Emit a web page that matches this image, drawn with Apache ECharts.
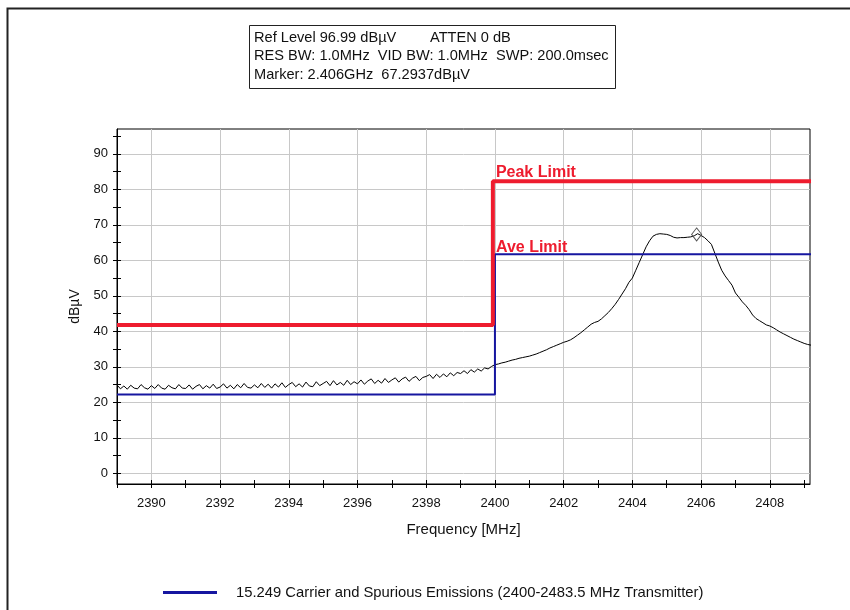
<!DOCTYPE html>
<html>
<head>
<meta charset="utf-8">
<script src="https://cdn.jsdelivr.net/npm/echarts@6/dist/echarts.min.js"></script>
<style>
  html, body { margin: 0; padding: 0; background: #ffffff; }
  #chart { width: 850px; height: 610px; }
</style>
</head>
<body>
<div id="chart"></div>
<script>
// ---------- data ----------
const infoLeft = [
  'Ref Level 96.99 dB\u00b5V',
  'RES BW: 1.0MHz  VID BW: 1.0MHz  SWP: 200.0msec',
  'Marker: 2.406GHz  67.2937dB\u00b5V'
];
const infoAtten = 'ATTEN 0 dB';
const legendName = '15.249 Carrier and Spurious Emissions (2400-2483.5 MHz Transmitter)';
const xTitle = 'Frequency [MHz]';
const yTitle = 'dB\u00b5V';

const freqMin = 2389;
const freqMax = 2409.17;
const levelMin = -3.01;
const levelMax = 96.99;

const xLabelTicks = [2390, 2392, 2394, 2396, 2398, 2400, 2402, 2404, 2406, 2408];
const xMinorTicks = [2389, 2390, 2391, 2392, 2393, 2394, 2395, 2396, 2397, 2398, 2399,
                     2400, 2401, 2402, 2403, 2404, 2405, 2406, 2407, 2408, 2409];
const yLabelTicks = [0, 10, 20, 30, 40, 50, 60, 70, 80, 90];
const yMinorTicks = [0, 5, 10, 15, 20, 25, 30, 35, 40, 45, 50, 55, 60, 65, 70, 75, 80, 85, 90, 95];

// measured sweep trace: start frequency, step (MHz) and levels (dBuV)
const traceStart = 2389.0;
const traceStep = 0.1;
const traceValues = [
  24.9, 23.8, 24.6, 23.7, 24.8, 24.0, 23.8, 25.0, 24.1, 23.7,
  24.7, 23.9, 25.0, 24.0, 23.7, 24.8, 24.1, 23.8, 25.0, 24.0,
  23.9, 24.9, 23.7, 24.5, 25.0, 23.8, 24.7, 24.0, 25.1, 23.9,
  24.3, 25.2, 24.0, 24.8, 23.8, 25.0, 24.1, 25.3, 24.2, 24.0,
  24.9, 24.1, 25.3, 24.2, 25.1, 24.0, 25.2, 24.3, 25.5, 24.2,
  25.0, 25.6, 24.4, 25.2, 24.3, 25.7, 24.6, 24.4, 25.8, 24.7,
  25.3, 25.9, 24.7, 26.1, 24.9, 25.6, 24.8, 26.2, 25.0, 25.8,
  25.2, 26.3, 25.1, 26.0, 26.6, 25.3, 26.2, 25.4, 26.7, 25.6,
  26.3, 26.9, 25.7, 26.6, 27.1, 25.9, 26.8, 27.3, 26.1, 27.0,
  27.3, 27.8, 26.7, 27.9, 27.0, 28.0, 27.2, 28.3, 27.5, 28.4,
  28.1, 28.9, 28.1, 29.2, 28.5, 29.4, 28.8, 29.7, 29.4, 30.1,
  30.6, 30.8, 31.1, 31.3, 31.6, 31.9, 32.1, 32.4, 32.6, 32.8,
  33.0, 33.3, 33.6, 34.0, 34.4, 34.8, 35.3, 35.7, 36.1, 36.5,
  36.9, 37.2, 37.6, 38.2, 38.9, 39.6, 40.4, 41.2, 42.0, 42.5,
  42.8, 43.5, 44.4, 45.3, 46.4, 47.6, 49.0, 50.5, 52.0, 53.8,
  55.0, 57.2, 59.4, 61.6, 63.8, 65.5, 66.8, 67.3, 67.5, 67.4,
  67.3, 67.0, 66.5, 66.3, 66.4, 66.4, 66.5, 66.6, 66.9, 67.5,
  67.0, 66.4, 65.5, 64.5, 62.0, 59.5, 57.2, 55.6, 54.3, 53.0,
  50.8, 49.6, 48.3, 47.3, 46.1, 44.6, 43.6, 43.0, 42.4, 41.8,
  41.5, 41.0, 40.4, 39.8, 39.3, 38.8, 38.3, 37.8, 37.4, 37.0,
  36.6, 36.3, 36.1
];

const peakLimitFreq = [2389, 2399.94, 2399.94, 2409.2];
const peakLimitLevel = [41.8, 41.8, 82.3, 82.3];
const aveLimitFreq = [2389, 2400, 2400, 2409.2];
const aveLimitLevel = [22.2, 22.2, 61.7, 61.7];

const markerFreq = 2405.87;
const markerLevel = 67.29;

// ---------- chart ----------
const RED = '#ee1c2e';
const BLUE = '#1616a0';
const FONT = '"Liberation Sans", Arial, sans-serif';

const traceData = traceValues.map((v, i) => [traceStart + i * traceStep, v]);
const peakData = peakLimitFreq.map((f, i) => [f, peakLimitLevel[i]]);
const aveData = aveLimitFreq.map((f, i) => [f, aveLimitLevel[i]]);

const chart = echarts.init(document.getElementById('chart'), null, { renderer: 'canvas' });

const gridPos = { left: 117, top: 129, width: 693, height: 355 };
const plain = v => String(v);

function baseX(extra) {
  return Object.assign({
    type: 'value', min: freqMin, max: freqMax, position: 'bottom', gridIndex: 0,
    axisLine: { show: false, onZero: false }, axisLabel: { show: false },
    axisTick: { show: false }, splitLine: { show: false }
  }, extra);
}
function baseY(extra) {
  return Object.assign({
    type: 'value', min: levelMin, max: levelMax, position: 'left', gridIndex: 0,
    axisLine: { show: false, onZero: false }, axisLabel: { show: false },
    axisTick: { show: false }, splitLine: { show: false }
  }, extra);
}

const option = {
  animation: false,
  backgroundColor: '#ffffff',
  textStyle: { fontFamily: FONT },
  grid: Object.assign({
    show: true, borderColor: '#000', borderWidth: 1, backgroundColor: '#fff',
    containLabel: false, outerBoundsMode: 'none'
  }, gridPos),
  xAxis: [
    baseX({
      name: xTitle, nameLocation: 'middle', nameGap: 38,
      nameTextStyle: { color: '#111', fontSize: 15, fontFamily: FONT },
      axisLine: { show: true, onZero: false, lineStyle: { color: '#000', width: 1 } },
      axisLabel: { show: true, customValues: xLabelTicks, formatter: plain, margin: 13, color: '#111', fontSize: 13, fontFamily: FONT },
      axisTick: { show: true, customValues: xMinorTicks, inside: false, length: 4, lineStyle: { color: '#000' } }
    }),
    baseX({
      axisTick: { show: true, customValues: xMinorTicks, inside: true, length: 4, lineStyle: { color: '#000' } }
    }),
    baseX({
      axisTick: { show: false, customValues: xLabelTicks },
      splitLine: { show: true, lineStyle: { color: '#c8c8c8', width: 1 } }
    })
  ],
  yAxis: [
    baseY({
      name: yTitle, nameLocation: 'middle', nameGap: 35,
      nameTextStyle: { color: '#111', fontSize: 14, fontFamily: FONT },
      axisLine: { show: true, onZero: false, lineStyle: { color: '#000', width: 1 } },
      axisLabel: { show: true, customValues: yLabelTicks, formatter: plain, margin: 9, color: '#111', fontSize: 13, fontFamily: FONT },
      axisTick: { show: true, customValues: yMinorTicks, inside: false, length: 4, lineStyle: { color: '#000' } }
    }),
    baseY({
      axisTick: { show: true, customValues: yMinorTicks, inside: true, length: 4, lineStyle: { color: '#000' } }
    }),
    baseY({
      axisTick: { show: false, customValues: yLabelTicks },
      splitLine: { show: true, lineStyle: { color: '#c8c8c8', width: 1 } }
    })
  ],
  legend: {
    data: [legendName],
    left: 158, top: 580,
    icon: 'rect', itemWidth: 54, itemHeight: 3,
    textStyle: { color: '#111', fontSize: 14.8, fontFamily: FONT, padding: [0, 0, 0, 14] },
    selectedMode: false
  },
  series: [
    {
      name: 'trace', type: 'line', xAxisIndex: 0, yAxisIndex: 0,
      data: traceData, showSymbol: false, symbol: 'none', z: 3,
      lineStyle: { color: '#000', width: 1 }, itemStyle: { color: '#000' },
      markPoint: {
        symbol: 'diamond', symbolSize: [10, 13], silent: true,
        itemStyle: { color: 'rgba(255,255,255,0)', borderColor: '#555', borderWidth: 1 },
        label: { show: false },
        data: [{ coord: [markerFreq, markerLevel] }]
      }
    },
    {
      name: legendName, type: 'line', xAxisIndex: 0, yAxisIndex: 0,
      data: aveData, showSymbol: false, symbol: 'none', z: 4,
      lineStyle: { color: BLUE, width: 2 }, itemStyle: { color: BLUE },
      markPoint: {
        symbol: 'circle', symbolSize: 1, silent: true,
        itemStyle: { color: 'rgba(0,0,0,0)' },
        label: { show: true, position: 'top', align: 'left', distance: 1, offset: [1, 3], formatter: 'Ave Limit',
                 color: RED, fontWeight: 'bold', fontSize: 16, fontFamily: FONT },
        data: [{ coord: [aveLimitFreq[2], aveLimitLevel[2]] }]
      }
    },
    {
      name: 'Peak Limit', type: 'line', xAxisIndex: 0, yAxisIndex: 0,
      data: peakData, showSymbol: false, symbol: 'none', z: 5,
      lineStyle: { color: RED, width: 4 }, itemStyle: { color: RED },
      markPoint: {
        symbol: 'circle', symbolSize: 1, silent: true,
        itemStyle: { color: 'rgba(0,0,0,0)' },
        label: { show: true, position: 'top', align: 'left', distance: 2, offset: [3, 2], formatter: 'Peak Limit',
                 color: RED, fontWeight: 'bold', fontSize: 16, fontFamily: FONT },
        data: [{ coord: [peakLimitFreq[2], peakLimitLevel[2]] }]
      }
    }
  ],
  graphic: [
    {
      type: 'rect', silent: true, z: 0,
      shape: { x: 7.5, y: 8.5, width: 900, height: 700 },
      style: { fill: 'none', stroke: '#222', lineWidth: 2 }
    },
    {
      type: 'rect', silent: true,
      shape: { x: 249.5, y: 25.5, width: 366, height: 63 },
      style: { fill: '#fff', stroke: '#222', lineWidth: 1 }
    },
    {
      type: 'text', silent: true, left: 254, top: 28.5,
      style: { text: infoLeft.join('\n'), fill: '#111', font: '14.6px ' + FONT, lineHeight: 18.5 }
    },
    {
      type: 'text', silent: true, left: 430, top: 28.5,
      style: { text: infoAtten, fill: '#111', font: '14.6px ' + FONT, lineHeight: 18.5 }
    }
  ]
};

chart.setOption(option);
</script>
</body>
</html>
